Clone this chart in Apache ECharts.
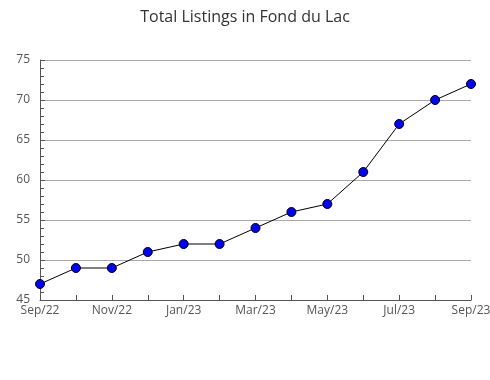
<!DOCTYPE html>
<html><head><meta charset="utf-8">
<script src="https://cdn.jsdelivr.net/npm/echarts@6/dist/echarts.min.js"></script>
<style>html,body{margin:0;padding:0;background:#fff}#c{width:490px;height:380px}</style>
</head><body><div id="c"></div>
<script>
const categories = ['Sep/22','Oct/22','Nov/22','Dec/22','Jan/23','Feb/23','Mar/23','Apr/23','May/23','Jun/23','Jul/23','Aug/23','Sep/23'];
const listings = [47,49,49,51,52,52,54,56,57,61,67,70,72];
const yTicks = {min:45, max:75, interval:5};
const chart = echarts.init(document.getElementById('c'), null, {renderer:'canvas'});
chart.setOption({
  animation:false,
  backgroundColor:'#fff',
  title:{text:'Total Listings in Fond du Lac', left:'center', top:4,
    textStyle:{fontFamily:'Open Sans', fontSize:16, fontWeight:'normal', color:'#333'}},
  grid:{left:40, right:19, top:60, bottom:80, containLabel:false, outerBoundsMode:'none'},
  xAxis:{type:'category', data:categories, boundaryGap:false,
    axisLine:{lineStyle:{color:'#555'}},
    axisTick:{inside:true, length:5, interval:0, lineStyle:{color:'#555'}},
    axisLabel:{interval:1, color:'#555', fontFamily:'Open Sans', fontSize:12, margin:5},
    splitLine:{show:false}},
  yAxis:{type:'value', min:yTicks.min, max:yTicks.max, interval:yTicks.interval,
    axisLine:{show:true, lineStyle:{color:'#555'}},
    axisTick:{show:true, inside:true, length:5, lineStyle:{color:'#555'}},
    minorTick:{show:true, splitNumber:5, length:4, lineStyle:{color:'#555'}},
    axisLabel:{color:'#555', fontFamily:'Open Sans', fontSize:12, margin:10},
    splitLine:{show:true, lineStyle:{color:'#aaa', width:1}}},
  series:[{type:'line', data:listings, symbol:'circle', symbolSize:9,
    lineStyle:{color:'#000', width:1},
    itemStyle:{color:'#0000ff', borderColor:'#000', borderWidth:1}}]
});
</script></body></html>
